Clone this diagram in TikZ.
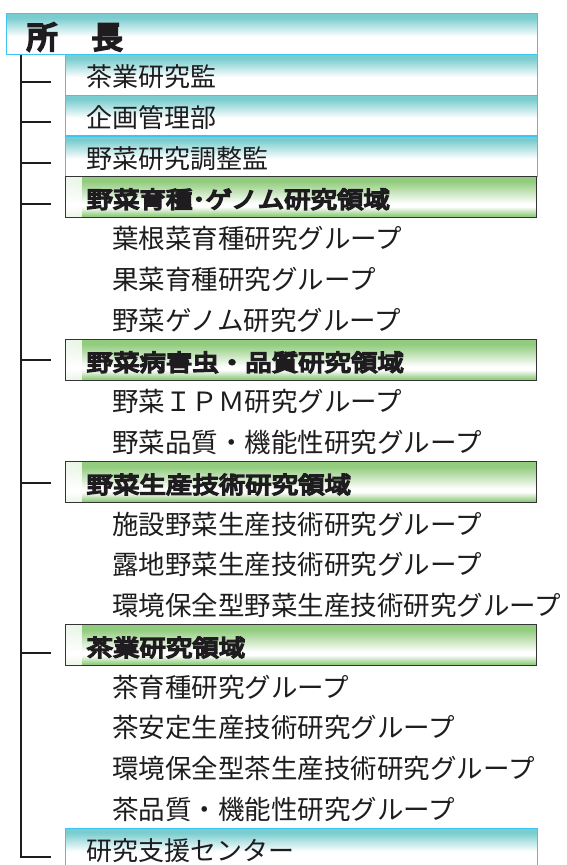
\documentclass[tikz,border=0pt]{standalone}
\usepackage{fontspec}
\usetikzlibrary{fadings}
\newfontfamily\jp{Noto Sans CJK JP}
\newfontfamily\jpb{Noto Sans CJK JP}[FakeBold=7,FakeStretch=1.15]
\newfontfamily\jpt{Noto Sans CJK JP}[FakeBold=7]
\definecolor{tealA}{RGB}{122,205,207}
\definecolor{blueBd}{RGB}{62,196,240}
\definecolor{greenA}{RGB}{146,204,126}
\definecolor{greenBd}{RGB}{52,52,52}
\definecolor{ink}{RGB}{30,28,30}
\pgfdeclareverticalshading{blueshade}{100bp}{color(0bp)=(white); color(47bp)=(white); color(70bp)=(tealA); color(100bp)=(tealA)}
\pgfdeclareverticalshading{greenshade}{100bp}{color(0bp)=(greenA); color(27bp)=(greenA); color(38bp)=(white); color(42bp)=(white); color(69bp)=(greenA); color(100bp)=(greenA)}
\tikzset{
  every node/.style={text=ink},
  topbox/.style={draw=blueBd, line width=1.3pt, shade, shading=blueshade, anchor=north west,
    minimum width=531pt, minimum height=40.75pt, inner xsep=20pt, inner ysep=0pt,
    text width=491pt, align=left, font=\jpt\fontsize{31}{31}\selectfont,
    text height=32.7pt, text depth=3.7pt},
  bluebox/.style={draw=blueBd, line width=1.3pt, shade, shading=blueshade, anchor=north west,
    minimum width=472pt, minimum height=40.75pt, inner xsep=21pt, inner ysep=0pt,
    text width=430pt, align=left, font=\jp\fontsize{26}{26}\selectfont,
    text height=26.9pt, text depth=3.1pt},
  greenbox/.style={draw=greenBd, line width=1.2pt, shade, shading=greenshade, anchor=north west,
    minimum width=471pt, minimum height=40.75pt, inner xsep=21pt, inner ysep=0pt,
    text width=429pt, align=left, font=\jpb\fontsize{23}{23}\selectfont,
    text height=24.8pt, text depth=2.8pt,
    path picture={\fill[white, path fading=east, fill opacity=0.85]
      (path picture bounding box.south west) rectangle ([xshift=16pt]path picture bounding box.north west);}},
  grouptext/.style={anchor=base west, inner sep=0pt, font=\jp\fontsize{26.5}{26.5}\selectfont},
  conn/.style={draw=ink, line width=1.5pt}
}
\begin{document}
\begin{tikzpicture}[x=1pt,y=1pt]
\useasboundingbox (0,0) rectangle (566,-865);
\fill[white] (0,0) rectangle (566,-865);
% head
\node[topbox] (head) at (6,-13) {所\hspace{34pt}長};
% rows
\node[bluebox] (chagyokan) at (65,-53.75) {茶業研究監};
\node[bluebox] (kikaku) at (65,-94.5) {企画管理部};
\node[bluebox] (yasaichosei) at (65,-135.25) {野菜研究調整監};
\node[greenbox] (ikushu) at (65,-176) {野菜育種･ゲノム研究領域};
\node[grouptext] (g1) at (112,-248.9) {葉根菜育種研究グループ};
\node[grouptext] (g2) at (112,-289.7) {果菜育種研究グループ};
\node[grouptext] (g3) at (112,-330.4) {野菜ゲノム研究グループ};
\node[greenbox] (byogai) at (65,-339) {野菜病害虫・品質研究領域};
\node[grouptext] (g4) at (112,-411.9) {野菜ＩＰＭ研究グループ};
\node[grouptext] (g5) at (112,-452.7) {野菜品質・機能性研究グループ};
\node[greenbox] (seisan) at (65,-461.25) {野菜生産技術研究領域};
\node[grouptext] (g6) at (112,-534.2) {施設野菜生産技術研究グループ};
\node[grouptext] (g7) at (112,-574.9) {露地野菜生産技術研究グループ};
\node[grouptext] (g8) at (112,-615.7) {環境保全型野菜生産技術研究グループ};
\node[greenbox] (chagyo) at (65,-624.25) {茶業研究領域};
\node[grouptext] (g9) at (112,-697.2) {茶育種研究グループ};
\node[grouptext] (g10) at (112,-737.9) {茶安定生産技術研究グループ};
\node[grouptext] (g11) at (112,-778.7) {環境保全型茶生産技術研究グループ};
\node[grouptext] (g12) at (112,-819.4) {茶品質・機能性研究グループ};
\node[bluebox] (shien) at (65,-828) {研究支援センター};
% connectors
\coordinate (trunktop) at ([xshift=15pt]head.south west);
\coordinate (t1) at (21,-82);
\coordinate (t2) at (21,-122);
\coordinate (t3) at (21,-163);
\coordinate (t4) at (21,-204);
\coordinate (t5) at (21,-360);
\coordinate (t6) at (21,-483);
\coordinate (t7) at (21,-653);
\coordinate (t8) at (21,-857);
\draw[conn] (trunktop) -- (t8) -- ++(30,0);
\foreach \t in {t1,t2,t3,t4,t5,t6,t7}{
  \draw[conn] (\t) -- ++(30,0);
}
\end{tikzpicture}
\end{document}
